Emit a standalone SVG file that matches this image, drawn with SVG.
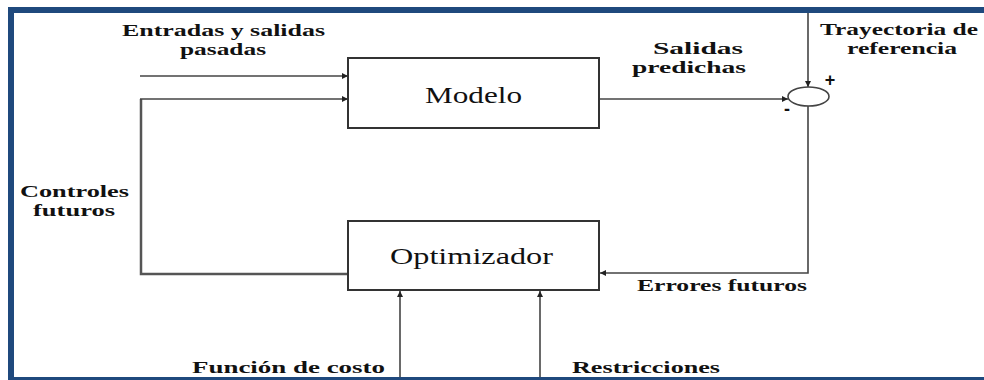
<svg xmlns="http://www.w3.org/2000/svg" width="984" height="380" viewBox="0 0 984 380">
<style>
.frame{fill:#1F497D}
.box{fill:#fff;stroke:#333;stroke-width:2}
.ln{fill:none;stroke:#444;stroke-width:1.6}
.lnt{fill:none;stroke:#555;stroke-width:2.5}
.lbl{font-family:"Liberation Serif","Times New Roman",serif;font-weight:bold;font-size:16px;fill:#111}
.nm{font-family:"Liberation Serif","Times New Roman",serif;font-size:24px;fill:#111}
.sg{font-family:"Liberation Sans",Arial,sans-serif;font-weight:bold;font-size:18px;fill:#111}
</style>
<defs>
<marker id="ah" viewBox="0 0 10 10" refX="10" refY="5" markerWidth="8" markerHeight="6" markerUnits="userSpaceOnUse" orient="auto">
<path d="M0,0 L10,5 L0,10 z" fill="#222"/>
</marker>
</defs>
<rect width="984" height="380" fill="#fff"/>
<g id="frame">
<rect class="frame" x="8" y="7" width="976" height="6"/>
<rect class="frame" x="8" y="7" width="6" height="373"/>
<rect class="frame" x="8" y="377" width="976" height="3"/>
</g>
<g id="connectors">
<line class="ln" x1="140" y1="76" x2="348" y2="76" marker-end="url(#ah)"/>
<polyline class="lnt" points="348,274 141,274 141,99"/>
<line class="ln" x1="140" y1="99" x2="348" y2="99" marker-end="url(#ah)"/>
<line class="ln" x1="600" y1="99" x2="788" y2="99" marker-end="url(#ah)"/>
<line class="ln" x1="808" y1="13" x2="808" y2="87" marker-end="url(#ah)"/>
<polyline class="ln" points="808,106 808,273 600,273" marker-end="url(#ah)"/>
<line class="ln" x1="400" y1="377" x2="400" y2="291" marker-end="url(#ah)"/>
<line class="ln" x1="540" y1="377" x2="540" y2="291" marker-end="url(#ah)"/>
</g>
<g id="modelo">
<rect class="box" x="348" y="58" width="251" height="70"/>
<text class="nm" x="425" y="103" textLength="97" lengthAdjust="spacingAndGlyphs">Modelo</text>
</g>
<g id="optimizador">
<rect class="box" x="348" y="221" width="251" height="69"/>
<text class="nm" x="390" y="264" textLength="163" lengthAdjust="spacingAndGlyphs">Optimizador</text>
</g>
<g id="sumador">
<ellipse cx="808.5" cy="96.5" rx="20.5" ry="9.5" fill="#fff" stroke="#444" stroke-width="1.6"/>
<text class="sg" x="830" y="86" text-anchor="middle">+</text>
<text class="sg" x="787" y="115" text-anchor="middle">-</text>
</g>
<g id="labels">
<text class="lbl" x="122" y="36" textLength="203" lengthAdjust="spacingAndGlyphs">Entradas y salidas</text>
<text class="lbl" x="180" y="55" textLength="86" lengthAdjust="spacingAndGlyphs">pasadas</text>
<text class="lbl" x="653" y="54" textLength="90" lengthAdjust="spacingAndGlyphs">Salidas</text>
<text class="lbl" x="632" y="73" textLength="114" lengthAdjust="spacingAndGlyphs">predichas</text>
<text class="lbl" x="820" y="35" textLength="158" lengthAdjust="spacingAndGlyphs">Trayectoria de</text>
<text class="lbl" x="847" y="54" textLength="110" lengthAdjust="spacingAndGlyphs">referencia</text>
<text class="lbl" x="20" y="197" textLength="109" lengthAdjust="spacingAndGlyphs">Controles</text>
<text class="lbl" x="33" y="216" textLength="82" lengthAdjust="spacingAndGlyphs">futuros</text>
<text class="lbl" x="637" y="291" textLength="170" lengthAdjust="spacingAndGlyphs">Errores futuros</text>
<text class="lbl" x="192" y="373" textLength="193" lengthAdjust="spacingAndGlyphs">Función de costo</text>
<text class="lbl" x="572" y="373" textLength="148" lengthAdjust="spacingAndGlyphs">Restricciones</text>
</g>
</svg>
